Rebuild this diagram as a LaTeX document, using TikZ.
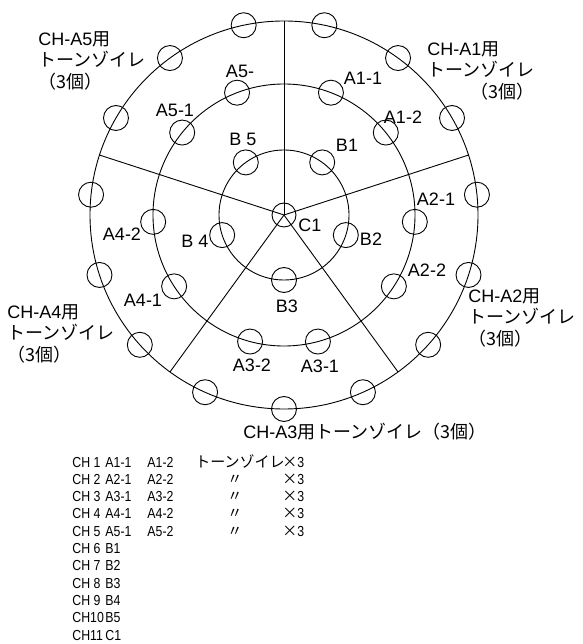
\documentclass[tikz,border=0pt]{standalone}
\usepackage{fontspec}
\setmainfont{Liberation Sans}
\newfontfamily\jp{Noto Sans CJK JP}
\newfontfamily\liste[FakeStretch=0.85]{Liberation Sans}
\newcommand\tabjp{\jp\fontsize{15}{17.3}\selectfont}
\tikzset{
  trou/.style={draw, circle, minimum size=25pt, inner sep=0pt},
  etiq/.style={font=\fontsize{18}{20}\selectfont, inner sep=0pt},
  bloc/.style={etiq, anchor=north west},
}

\begin{document}
\begin{tikzpicture}[x=1pt, y=1pt, line width=0.9pt]
\useasboundingbox (-284,-429) rectangle (298,215);
% Cercles
\coordinate (O) at (0,0);
\draw (O) circle (194pt);
\draw (O) circle (131pt);
\draw (O) circle (65pt);
% Secteurs
\foreach \a [count=\i] in {90,18,-54,-126,162} {
  \coordinate (s\i) at (\a:194pt);
  \draw (O) -- (s\i);
}
% Trous exterieurs
\foreach \k [evaluate=\k as \a using 6+24*\k] in {0,...,14}
  \node[trou] (ext\k) at (\a:194pt) {};
% Trous A et B
\foreach \c [count=\i] in {54,-18,-90,198,126} {
  \node[trou] (a\i1) at (\c+15:131pt) {};
  \node[trou] (a\i2) at (\c-15:131pt) {};
  \node[trou] (b\i) at (\c:65pt) {};
}
% Centre
\node[trou, minimum size=24pt] (c1) at (O) {};
% Etiquettes
\node[etiq] (la11) at (79,137) {A1-1};
\node[etiq] (la12) at (119,98) {A1-2};
\node[etiq] (la21) at (152,16) {A2-1};
\node[etiq] (la22) at (143,-55) {A2-2};
\node[etiq] (la31) at (36,-151) {A3-1};
\node[etiq] (la32) at (-32,-150) {A3-2};
\node[etiq] (la41) at (-141,-85) {A4-1};
\node[etiq] (la42) at (-162,-19) {A4-2};
\node[etiq] (la51) at (-109,105) {A5-1};
\node[etiq] (la52) at (-44,144) {A5-};
\node[etiq] (lb1) at (63,70) {B1};
\node[etiq] (lb2) at (87,-24) {B2};
\node[etiq] (lb3) at (3,-91) {B3};
\node[etiq] (lb4) at (-89,-26) {B 4};
\node[etiq] (lb5) at (-41,76) {B 5};
\node[etiq] (lc1) at (26,-10) {C1};
% Canaux
\node[bloc] (ch1) at (143,174) {\begin{tabular}{@{}l@{}}CH-A1{\jp 用}\\{\jp トーンゾイレ}\\\hfill{\jp（3個）}\end{tabular}};
\node[bloc] (ch2) at (184,-73) {\begin{tabular}{@{}l@{}}CH-A2{\jp 用}\\{\jp トーンゾイレ}\\{\jp（3個）}\end{tabular}};
\node[etiq, anchor=base west] (ch3) at (-41,-223) {CH-A3{\jp 用トーンゾイレ（3個）}};
\node[bloc] (ch4) at (-277,-89) {\begin{tabular}{@{}l@{}}CH-A4{\jp 用}\\{\jp トーンゾイレ}\\{\jp（3個）}\end{tabular}};
\node[bloc] (ch5) at (-246,184) {\begin{tabular}{@{}l@{}}CH-A5{\jp 用}\\{\jp トーンゾイレ}\\{\jp（3個）}\end{tabular}};
% Liste
\node[anchor=base west, inner sep=0pt, font=\fontsize{14.5}{17.3}\selectfont\liste] (liste) at (-212,-252) {%
\begin{tabular}[t]{@{}p{33pt}@{}p{42pt}@{}p{48pt}@{}l@{}}
CH 1 & A1-1 & A1-2 & \makebox[87pt][l]{\tabjp トーンゾイレ}{\tabjp ×}3\\
CH 2 & A2-1 & A2-2 & \makebox[87pt][l]{\hspace{32pt}\tabjp 〃}{\tabjp ×}3\\
CH 3 & A3-1 & A3-2 & \makebox[87pt][l]{\hspace{32pt}\tabjp 〃}{\tabjp ×}3\\
CH 4 & A4-1 & A4-2 & \makebox[87pt][l]{\hspace{32pt}\tabjp 〃}{\tabjp ×}3\\
CH 5 & A5-1 & A5-2 & \makebox[87pt][l]{\hspace{32pt}\tabjp 〃}{\tabjp ×}3\\
CH 6 & B1 & & \\
CH 7 & B2 & & \\
CH 8 & B3 & & \\
CH 9 & B4 & & \\
CH10 & B5 & & \\
CH11 & C1 & & \\
\end{tabular}};
\end{tikzpicture}
\end{document}
